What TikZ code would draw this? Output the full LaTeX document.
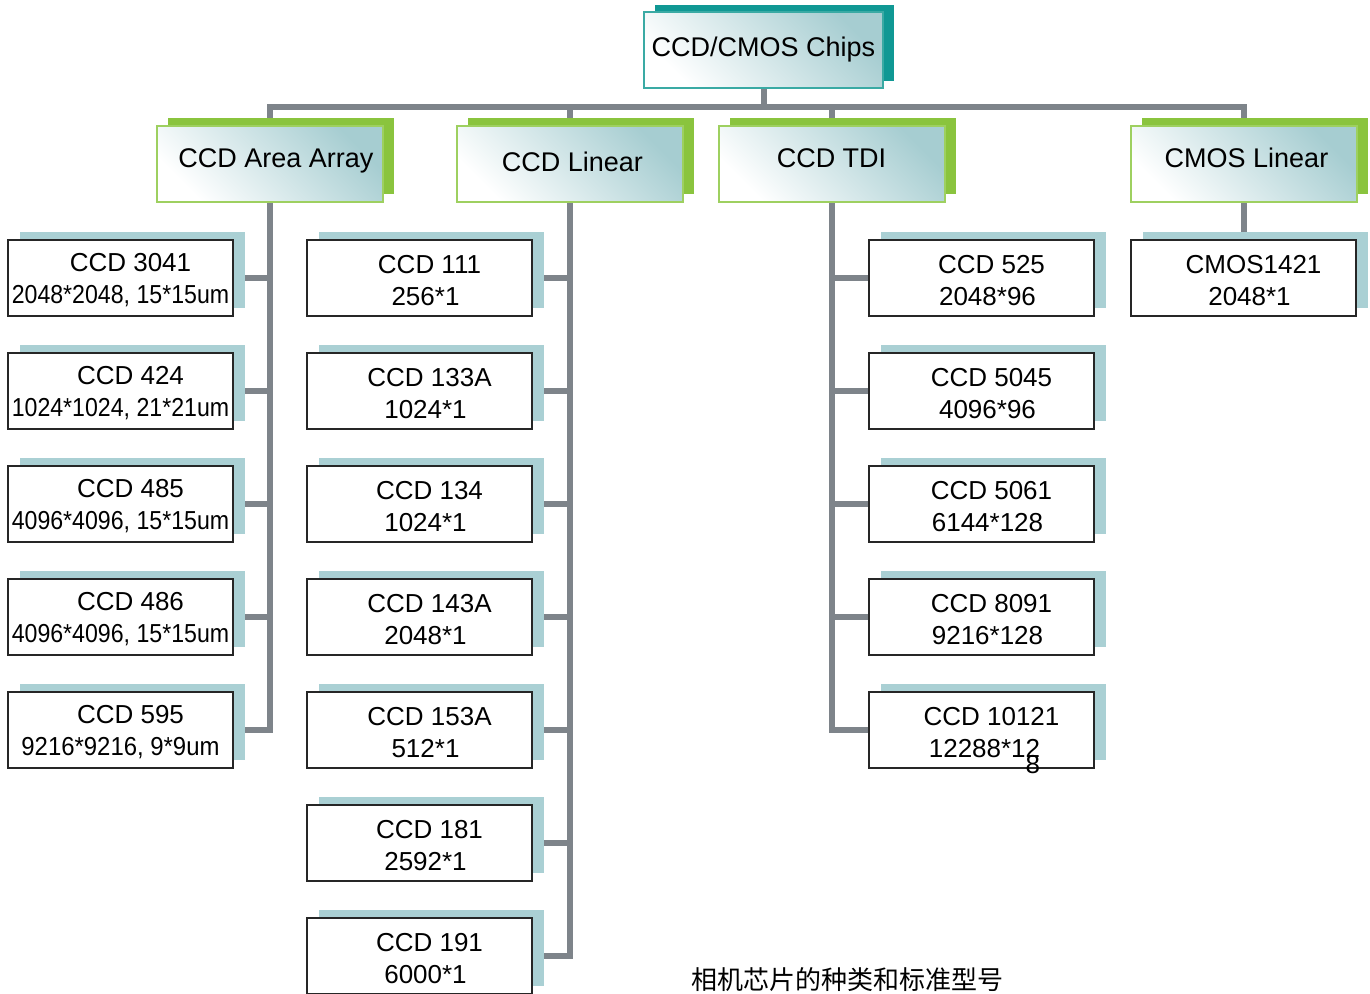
\documentclass[tikz,border=0pt]{standalone}
\usepackage{fontspec}
\setmainfont{Liberation Sans}
\newfontfamily\cjkfont{Noto Sans CJK SC}
\usetikzlibrary{shadows,backgrounds}

\definecolor{chipteal}{RGB}{16,152,148}
\definecolor{chipedge}{RGB}{58,170,164}
\definecolor{catgreen}{RGB}{138,196,62}
\definecolor{catedge}{RGB}{158,208,96}
\definecolor{catfill}{RGB}{166,205,209}
\definecolor{leafshadow}{RGB}{170,208,212}
\definecolor{linkgray}{RGB}{126,132,138}

\newcommand{\narrowline}[1]{\scalebox{0.89}[1]{#1}}
\newcommand{\chipname}[1]{\rule{0pt}{11.5pt}\hspace*{10pt}#1}
\newcommand{\chipsize}[1]{\hspace*{6pt}#1}

\begin{document}
\begin{tikzpicture}[
    x=0.5pt, y=-0.5pt,
    rootbox/.style={rectangle, draw=chipedge, line width=1.2pt, top color=catfill, bottom color=white, shading angle=-45, minimum width=119.5pt, minimum height=38pt, text height=10pt, text depth=3.5pt, font=\fontsize{13.5}{16}\selectfont, general shadow={fill=chipteal, shadow xshift=5.5pt, shadow yshift=3.5pt}},
    catbox/.style={rectangle, draw=catedge, line width=1pt, top color=catfill, bottom color=white, shading angle=-45, minimum width=113pt, minimum height=38pt, text height=10pt, text depth=6.4pt, font=\fontsize{13.5}{16}\selectfont, general shadow={fill=catgreen, shadow xshift=5.5pt, shadow yshift=4pt}},
    leafbox/.style={rectangle, draw=black!85, line width=1pt, fill=white, minimum width=112.5pt, minimum height=38pt, inner sep=0pt, align=center, font=\fontsize{13}{16}\selectfont, general shadow={fill=leafshadow, shadow xshift=6pt, shadow yshift=4pt}},
    link/.style={draw=linkgray, line width=3pt}
]
\useasboundingbox (0,0) rectangle (1370,994);

% top
\node[rootbox] (root) at (763.5,50) {CCD/CMOS Chips};

% categories
\node[catbox] (catarea) at (270,164) {\hspace*{6pt}CCD Area Array};
\node[catbox, text depth=2.5pt] (catlin) at (569.5,164) {\hspace*{3pt}CCD Linear};
\node[catbox] (cattdi) at (831.5,164) {CCD TDI};
\node[catbox] (catcmos) at (1243.5,164) {\hspace*{3pt}CMOS Linear};

% CCD area array chips
\node[leafbox] (area1) at (120.5,278) {\chipname{CCD 3041}\\\narrowline{2048*2048, 15*15um}};
\node[leafbox] (area2) at (120.5,391) {\chipname{CCD 424}\\\narrowline{1024*1024, 21*21um}};
\node[leafbox] (area3) at (120.5,504) {\chipname{CCD 485}\\\narrowline{4096*4096, 15*15um}};
\node[leafbox] (area4) at (120.5,617) {\chipname{CCD 486}\\\narrowline{4096*4096, 15*15um}};
\node[leafbox] (area5) at (120.5,730) {\chipname{CCD 595}\\\scalebox{0.92}[1]{9216*9216, 9*9um}};

% CCD linear chips
\node[leafbox] (lin1) at (419.5,278) {\chipname{CCD 111}\\\chipsize{256*1}};
\node[leafbox] (lin2) at (419.5,391) {\chipname{CCD 133A}\\\chipsize{1024*1}};
\node[leafbox] (lin3) at (419.5,504) {\chipname{CCD 134}\\\chipsize{1024*1}};
\node[leafbox] (lin4) at (419.5,617) {\chipname{CCD 143A}\\\chipsize{2048*1}};
\node[leafbox] (lin5) at (419.5,730) {\chipname{CCD 153A}\\\chipsize{512*1}};
\node[leafbox] (lin6) at (419.5,843) {\chipname{CCD 181}\\\chipsize{2592*1}};
\node[leafbox] (lin7) at (419.5,956) {\chipname{CCD 191}\\\chipsize{6000*1}};

% CCD TDI chips
\node[leafbox] (tdi1) at (981.5,278) {\chipname{CCD 525}\\\chipsize{2048*96}};
\node[leafbox] (tdi2) at (981.5,391) {\chipname{CCD 5045}\\\chipsize{4096*96}};
\node[leafbox] (tdi3) at (981.5,504) {\chipname{CCD 5061}\\\chipsize{6144*128}};
\node[leafbox] (tdi4) at (981.5,617) {\chipname{CCD 8091}\\\chipsize{9216*128}};
\node[leafbox] (tdi5) at (981.5,730) {\chipname{CCD 10121}\\\hspace*{3pt}12288*12\llap{\smash{\raisebox{-8pt}{8}}}};

% CMOS linear chips
\node[leafbox] (cmos1) at (1243.5,278) {\chipname{CMOS1421}\\\chipsize{2048*1}};

% caption
\node[font=\cjkfont\fontsize{13}{16}\selectfont] (caption) at (847,980) {相机芯片的种类和标准型号};

% connectors
\begin{scope}[on background layer]
\coordinate (bus) at (763.5,107);
\draw[link] (root) -- (root |- bus);
\draw[link] (catarea) |- (bus) -| (catcmos);
\draw[link] (catlin) -- (catlin |- bus);
\draw[link] (cattdi) -- (cattdi |- bus);

\draw[link] (catarea) |- (area5);
\foreach \i in {1,...,4}
    \draw[link] (catarea |- area\i) -- (area\i);

\draw[link] (catlin) |- (lin7);
\foreach \i in {1,...,6}
    \draw[link] (catlin |- lin\i) -- (lin\i);

\draw[link] (cattdi) |- (tdi5);
\foreach \i in {1,...,4}
    \draw[link] (cattdi |- tdi\i) -- (tdi\i);

\draw[link] (catcmos) -- (cmos1);
\end{scope}

\end{tikzpicture}
\end{document}
